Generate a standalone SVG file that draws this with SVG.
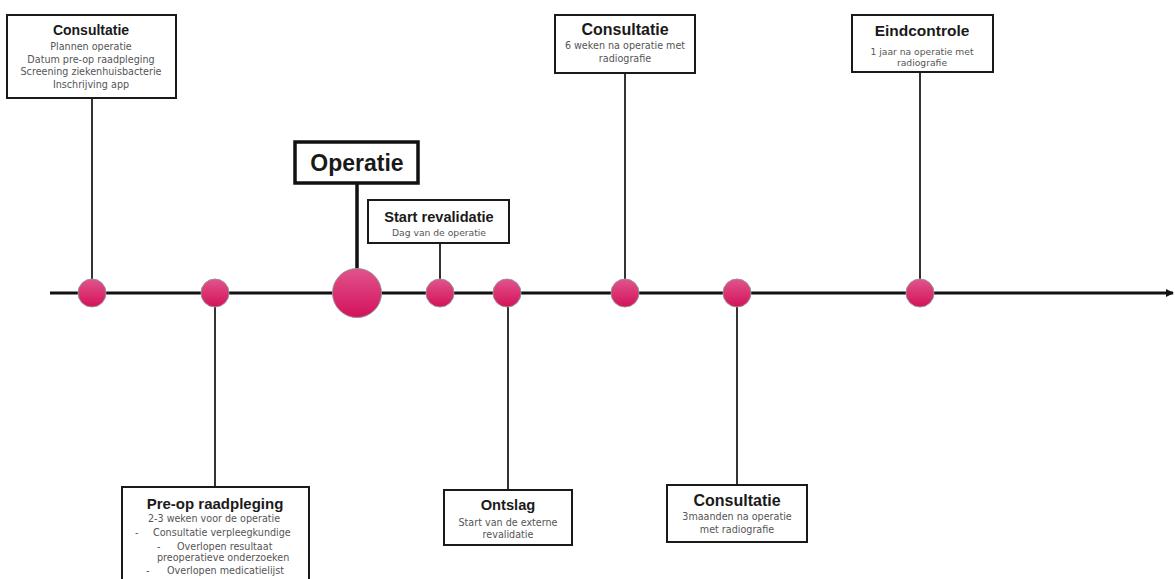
<svg xmlns="http://www.w3.org/2000/svg" width="1175" height="579" viewBox="0 0 1175 579">
<style>
.box{fill:#fff;stroke:#1a1a1a;stroke-width:2}
.t{font-family:"Liberation Sans",Arial,sans-serif;font-weight:bold;fill:#1a1a1a;text-anchor:middle}
.s{font-family:"DejaVu Sans",sans-serif;font-size:9.6px;fill:#555;text-anchor:middle}
.sl{font-family:"DejaVu Sans",sans-serif;font-size:9.6px;fill:#555}
.conn line{stroke:#333;stroke-width:2}
.dot{fill:url(#pink);stroke:#9a8f95;stroke-width:1}
</style>
<defs>
<linearGradient id="pink" x1="0" y1="0" x2="0" y2="1">
<stop offset="0" stop-color="#e2538c"/>
<stop offset="1" stop-color="#d3125a"/>
</linearGradient>
<marker id="arr" markerWidth="8" markerHeight="8" refX="7" refY="4" orient="auto" markerUnits="userSpaceOnUse">
<path d="M0,0 L8,4 L0,8 Z" fill="#111"/>
</marker>
</defs>
<rect width="1175" height="579" fill="#fff"/>

<g id="connectors" class="conn">
<line x1="50" y1="293" x2="1173" y2="293" style="stroke:#111;stroke-width:3" marker-end="url(#arr)"/>
<line x1="92" y1="98" x2="92" y2="280"/>
<line x1="215" y1="306" x2="215" y2="487"/>
<line x1="357" y1="183" x2="357" y2="270" style="stroke:#111;stroke-width:3.5"/>
<line x1="440" y1="243" x2="440" y2="280"/>
<line x1="508" y1="306" x2="508" y2="490"/>
<line x1="625" y1="73" x2="625" y2="280"/>
<line x1="737" y1="306" x2="737" y2="485"/>
<line x1="920" y1="72" x2="920" y2="280"/>
</g>

<g id="dots">
<circle class="dot" cx="92" cy="293" r="14"/>
<circle class="dot" cx="215" cy="293" r="14"/>
<circle class="dot" cx="357" cy="293" r="24.5"/>
<circle class="dot" cx="440" cy="293" r="14"/>
<circle class="dot" cx="507" cy="293" r="14"/>
<circle class="dot" cx="625" cy="293" r="14"/>
<circle class="dot" cx="737" cy="293" r="14"/>
<circle class="dot" cx="920" cy="293" r="14"/>
</g>

<g id="consultatie1">
<rect class="box" x="7" y="15" width="169" height="83"/>
<text class="t" x="91" y="35" font-size="14">Consultatie</text>
<text class="s" x="91" y="50">Plannen operatie</text>
<text class="s" x="91" y="62.5">Datum pre-op raadpleging</text>
<text class="s" x="91" y="75">Screening ziekenhuisbacterie</text>
<text class="s" x="91" y="87.5">Inschrijving app</text>
</g>

<g id="preop">
<rect class="box" x="122" y="487" width="187" height="100"/>
<text class="t" x="215" y="508.5" font-size="15">Pre-op raadpleging</text>
<text class="s" x="214" y="521.5">2-3 weken voor de operatie</text>
<text class="sl" x="135" y="535.5">-</text>
<text class="sl" x="153" y="535.5">Consultatie verpleegkundige</text>
<text class="sl" x="157" y="550">-</text>
<text class="sl" x="177" y="550">Overlopen resultaat</text>
<text class="sl" x="157" y="561">preoperatieve onderzoeken</text>
<text class="sl" x="146" y="574">-</text>
<text class="sl" x="167" y="574">Overlopen medicatielijst</text>
</g>

<g id="operatie">
<rect x="295" y="142" width="123" height="41" fill="#fff" stroke="#111" stroke-width="3.5"/>
<text class="t" x="357" y="170.5" font-size="23">Operatie</text>
</g>

<g id="startrevalidatie">
<rect class="box" x="368" y="200" width="141" height="43"/>
<text class="t" x="439" y="222" font-size="14.6">Start revalidatie</text>
<text class="s" x="439" y="236" style="font-size:9.2px">Dag van de operatie</text>
</g>

<g id="ontslag">
<rect class="box" x="444" y="490" width="128" height="55"/>
<text class="t" x="508" y="510" font-size="14.7">Ontslag</text>
<text class="s" x="508" y="525.5">Start van de externe</text>
<text class="s" x="508" y="538">revalidatie</text>
</g>

<g id="consultatie2">
<rect class="box" x="555" y="15" width="140" height="58"/>
<text class="t" x="625" y="35" font-size="16">Consultatie</text>
<text class="s" x="625" y="49">6 weken na operatie met</text>
<text class="s" x="625" y="62">radiografie</text>
</g>

<g id="consultatie3">
<rect class="box" x="667" y="485" width="140" height="57"/>
<text class="t" x="737" y="506" font-size="16">Consultatie</text>
<text class="s" x="737" y="519.5">3maanden na operatie</text>
<text class="s" x="737" y="533">met radiografie</text>
</g>

<g id="eindcontrole">
<rect class="box" x="852" y="15" width="141" height="57"/>
<text class="t" x="922" y="36" font-size="15.5">Eindcontrole</text>
<text class="s" x="922" y="55" style="font-size:9.2px">1 jaar na operatie met</text>
<text class="s" x="922" y="66" style="font-size:9.2px">radiografie</text>
</g>
</svg>
